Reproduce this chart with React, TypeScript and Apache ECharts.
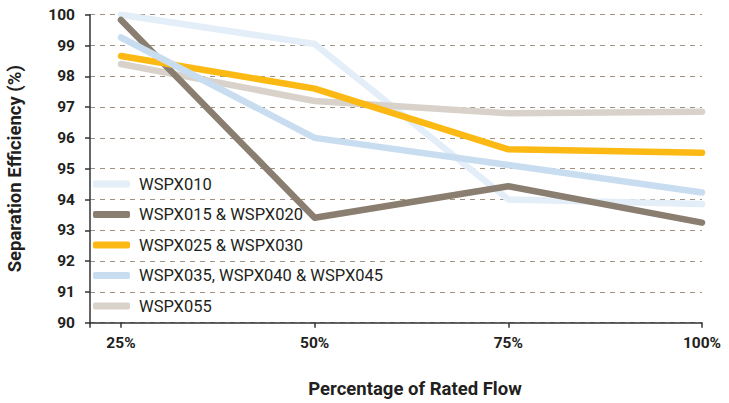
import React, { useEffect, useRef } from "react";
import * as echarts from "echarts";

const flowPoints = [25, 50, 75, 100];
const tickValues = [21, 25, 50, 75, 100];
const labelValues = [25, 50, 75, 100];

const seriesNames = [
  "WSPX010",
  "WSPX015 & WSPX020",
  "WSPX025 & WSPX030",
  "WSPX035, WSPX040 & WSPX045",
  "WSPX055",
];
const wspx010 = [100.0, 99.05, 94.0, 93.85];
const wspx015_020 = [99.83, 93.41, 94.43, 93.25];
const wspx025_030 = [98.66, 97.6, 95.63, 95.52];
const wspx035_045 = [99.26, 96.0, 95.12, 94.23];
const wspx055 = [98.4, 97.2, 96.8, 96.85];
const seriesValues = [wspx010, wspx015_020, wspx025_030, wspx035_045, wspx055];
const seriesColors = ["#e3eef8", "#8a7e70", "#fdb913", "#c9ddf1", "#d8d2cb"];
const seriesZ = [2, 3, 4, 5, 2];

const FONT = "Roboto";

export default function App() {
  const ref = useRef<HTMLDivElement>(null);
  useEffect(() => {
    if (!ref.current) return;
    const chart = echarts.init(ref.current, null, { renderer: "svg" });
    chart.setOption({
      animation: false,
      backgroundColor: "#ffffff",
      textStyle: { fontFamily: FONT },
      grid: {
        left: 90,
        right: 27,
        top: 14.7,
        bottom: 80.3,
        containLabel: false,
        outerBoundsMode: "none",
      },
      legend: {
        orient: "vertical",
        left: 93,
        top: 174,
        padding: 0,
        itemWidth: 37,
        itemHeight: 7,
        itemGap: 10.5,
        icon: "roundRect",
        textStyle: {
          fontFamily: FONT,
          fontSize: 16.5,
          color: "#231f20",
          lineHeight: 20,
          padding: [0, 0, 0, 4],
        },
        data: seriesNames,
      },
      xAxis: {
        type: "value",
        min: 21,
        max: 100,
        name: "Percentage of Rated Flow",
        nameLocation: "middle",
        nameGap: 57,
        nameTextStyle: {
          fontFamily: FONT,
          fontSize: 18.5,
          fontWeight: "bold",
          color: "#231f20",
          padding: [0, 0, 0, 38],
        },
        splitLine: { show: false },
        axisLine: { show: true, lineStyle: { color: "#333333", width: 1.5 } },
        axisTick: {
          show: true,
          length: 5,
          customValues: tickValues,
          lineStyle: { color: "#333333", width: 1.5 },
        },
        axisLabel: {
          customValues: labelValues,
          formatter: (v: number) => v + "%",
          fontFamily: FONT,
          fontSize: 15.5,
          fontWeight: "bold",
          color: "#231f20",
          margin: 12,
        },
      },
      yAxis: {
        type: "value",
        min: 90,
        max: 100,
        interval: 1,
        name: "Separation Efficiency (%)",
        nameLocation: "middle",
        nameGap: 66,
        nameTextStyle: {
          fontFamily: FONT,
          fontSize: 18.5,
          fontWeight: "bold",
          color: "#231f20",
        },
        axisLine: { show: true, lineStyle: { color: "#333333", width: 1.5 } },
        axisTick: { show: true, length: 5, lineStyle: { color: "#333333", width: 1.5 } },
        axisLabel: {
          fontFamily: FONT,
          fontSize: 15.5,
          fontWeight: "bold",
          color: "#231f20",
          margin: 15,
        },
        splitLine: {
          show: true,
          lineStyle: { color: "#a09282", width: 1, type: [5, 5] },
        },
      },
      series: seriesNames.map((name, i) => ({
        name,
        type: "line",
        z: seriesZ[i],
        data: flowPoints.map((x, j) => [x, seriesValues[i][j]]),
        showSymbol: false,
        symbol: "none",
        color: seriesColors[i],
        lineStyle: { width: 6.5, color: seriesColors[i], cap: "round", join: "round" },
      })),
    });
    return () => chart.dispose();
  }, []);
  return (
    <div
      ref={ref}
      style={{ position: "fixed", left: 0, top: 0, width: 729, height: 403 }}
    />
  );
}
